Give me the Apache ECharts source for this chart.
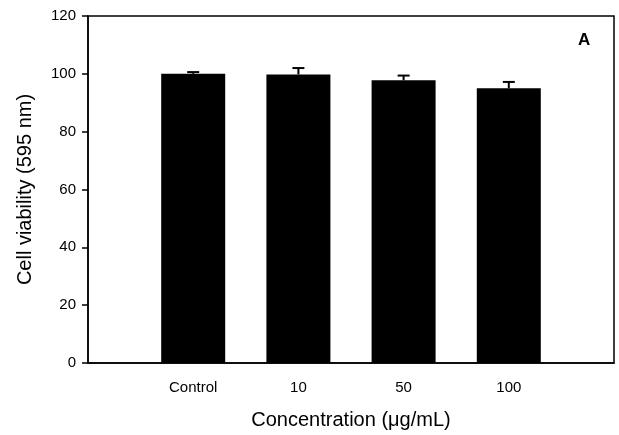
<!DOCTYPE html>
<html>
<head>
<meta charset="utf-8">
<script src="https://cdn.jsdelivr.net/npm/echarts@6/dist/echarts.min.js"></script>
<style>
html,body{margin:0;padding:0;background:#fff;}
#chart{width:619px;height:435px;}
</style>
</head>
<body>
<div id="chart"></div>
<script>
var categories = ["Control", "10", "50", "100"];
var positions = [1, 2, 3, 4];
var values = [100, 99.8, 97.8, 95.0];
var errors = [0.6, 2.2, 1.6, 2.2];
var yTicks = [0, 20, 40, 60, 80, 100, 120];

var font = "Liberation Sans, Arial, sans-serif";
var chart = echarts.init(document.getElementById('chart'));

var barData = positions.map(function (p, i) { return [p, values[i]]; });
var errData = positions.map(function (p, i) { return [p, values[i], values[i] + errors[i]]; });

chart.setOption({
  animation: false,
  grid: { left: 88, right: 5, top: 16, bottom: 66, show: true, borderColor: '#000', borderWidth: 1.5, containLabel: false },
  xAxis: {
    type: 'value', min: 0, max: 5, interval: 1,
    axisLine: { show: true, lineStyle: { color: '#000', width: 1.5 } },
    axisTick: { show: false },
    splitLine: { show: false },
    axisLabel: {
      margin: 17, fontSize: 15, color: '#000', fontFamily: font,
      formatter: function (v) { var i = positions.indexOf(v); return i >= 0 ? categories[i] : ''; }
    },
    name: 'Concentration (\u03bcg/mL)', nameLocation: 'middle', nameGap: 47,
    nameTextStyle: { fontSize: 20, color: '#000', fontFamily: font }
  },
  yAxis: {
    type: 'value', min: yTicks[0], max: yTicks[yTicks.length - 1], interval: 20,
    axisLine: { show: true, lineStyle: { color: '#000', width: 1.5 } },
    axisTick: { show: true, inside: false, length: 6, lineStyle: { color: '#000', width: 1.5 } },
    splitLine: { show: false },
    axisLabel: { margin: 12, fontSize: 15, color: '#000', fontFamily: font },
    name: 'Cell viability (595 nm)', nameLocation: 'middle', nameGap: 53,
    nameTextStyle: { fontSize: 20, color: '#000', fontFamily: font }
  },
  series: [
    {
      type: 'bar', data: barData, barWidth: 64,
      itemStyle: { color: '#000' }, z: 2
    },
    {
      type: 'custom', data: errData, z: 3,
      renderItem: function (params, api) {
        var x = api.value(0);
        var base = api.coord([x, api.value(1)]);
        var top = api.coord([x, api.value(2)]);
        var hw = 6;
        return {
          type: 'group',
          children: [
            { type: 'line', shape: { x1: base[0], y1: base[1], x2: top[0], y2: top[1] }, style: { stroke: '#000', lineWidth: 2 } },
            { type: 'line', shape: { x1: top[0] - hw, y1: top[1], x2: top[0] + hw, y2: top[1] }, style: { stroke: '#000', lineWidth: 2 } }
          ]
        };
      }
    }
  ],
  graphic: [
    { type: 'text', left: 578, top: 32, style: { text: 'A', fontSize: 17, fontWeight: 'bold', fill: '#000', fontFamily: font } }
  ]
});
</script>
</body>
</html>
